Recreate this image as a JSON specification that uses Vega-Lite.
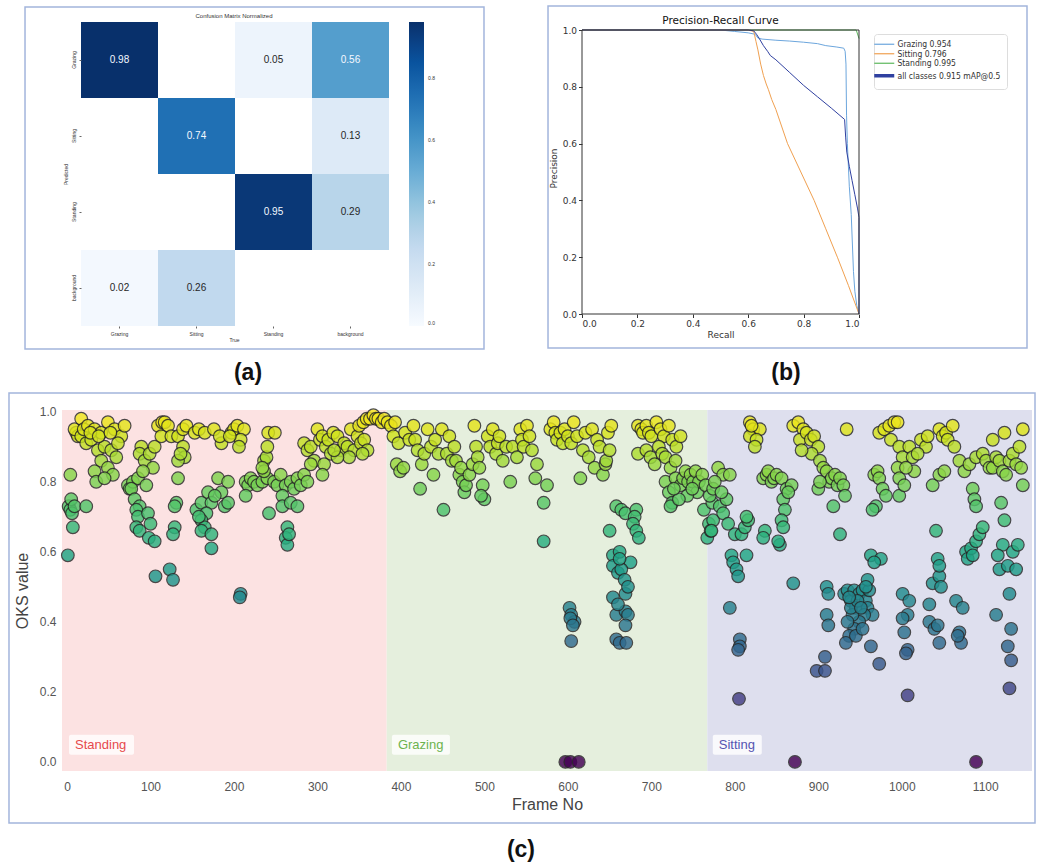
{
  "$schema": "https://vega.github.io/schema/vega-lite/v6.json",
  "padding": {"left": 8, "top": 5, "right": 0, "bottom": 0},
  "background": "white",
  "config": {"view": {"stroke": null}, "font": "Liberation Sans"},
  "spacing": 7,
  "datasets": {
    "cm": [
      {"actual": "Grazing", "predicted": "Grazing", "value": 0.98},
      {"actual": "Standing", "predicted": "Grazing", "value": 0.05},
      {"actual": "background", "predicted": "Grazing", "value": 0.56},
      {"actual": "Sitting", "predicted": "Sitting", "value": 0.74},
      {"actual": "background", "predicted": "Sitting", "value": 0.13},
      {"actual": "Standing", "predicted": "Standing", "value": 0.95},
      {"actual": "background", "predicted": "Standing", "value": 0.29},
      {"actual": "Grazing", "predicted": "background", "value": 0.02},
      {"actual": "Sitting", "predicted": "background", "value": 0.26}
    ],
    "pr": [
      {"series": "Standing 0.995", "i": 0, "recall": 0, "precision": 1},
      {"series": "Standing 0.995", "i": 1, "recall": 0.99, "precision": 1},
      {"series": "Standing 0.995", "i": 2, "recall": 1.0, "precision": 0.97},
      {"series": "Grazing 0.954", "i": 0, "recall": 0, "precision": 1},
      {"series": "Grazing 0.954", "i": 1, "recall": 0.5, "precision": 1},
      {"series": "Grazing 0.954", "i": 2, "recall": 0.55, "precision": 0.995},
      {"series": "Grazing 0.954", "i": 3, "recall": 0.6, "precision": 0.99},
      {"series": "Grazing 0.954", "i": 4, "recall": 0.625, "precision": 0.985},
      {"series": "Grazing 0.954", "i": 5, "recall": 0.635, "precision": 0.972},
      {"series": "Grazing 0.954", "i": 6, "recall": 0.65, "precision": 0.968},
      {"series": "Grazing 0.954", "i": 7, "recall": 0.7, "precision": 0.964},
      {"series": "Grazing 0.954", "i": 8, "recall": 0.75, "precision": 0.961},
      {"series": "Grazing 0.954", "i": 9, "recall": 0.8, "precision": 0.957},
      {"series": "Grazing 0.954", "i": 10, "recall": 0.85, "precision": 0.952},
      {"series": "Grazing 0.954", "i": 11, "recall": 0.88, "precision": 0.945},
      {"series": "Grazing 0.954", "i": 12, "recall": 0.92, "precision": 0.94},
      {"series": "Grazing 0.954", "i": 13, "recall": 0.945, "precision": 0.936},
      {"series": "Grazing 0.954", "i": 14, "recall": 0.95, "precision": 0.925},
      {"series": "Grazing 0.954", "i": 15, "recall": 0.953, "precision": 0.88},
      {"series": "Grazing 0.954", "i": 16, "recall": 0.955, "precision": 0.7},
      {"series": "Grazing 0.954", "i": 17, "recall": 0.958, "precision": 0.6},
      {"series": "Grazing 0.954", "i": 18, "recall": 0.965, "precision": 0.45},
      {"series": "Grazing 0.954", "i": 19, "recall": 0.972, "precision": 0.35},
      {"series": "Grazing 0.954", "i": 20, "recall": 0.976, "precision": 0.25},
      {"series": "Grazing 0.954", "i": 21, "recall": 0.98, "precision": 0.15},
      {"series": "Grazing 0.954", "i": 22, "recall": 0.985, "precision": 0.08},
      {"series": "Grazing 0.954", "i": 23, "recall": 0.992, "precision": 0.03},
      {"series": "Grazing 0.954", "i": 24, "recall": 1.0, "precision": 0.0},
      {"series": "Sitting 0.796", "i": 0, "recall": 0, "precision": 1},
      {"series": "Sitting 0.796", "i": 1, "recall": 0.6, "precision": 1},
      {"series": "Sitting 0.796", "i": 2, "recall": 0.62, "precision": 0.995},
      {"series": "Sitting 0.796", "i": 3, "recall": 0.628, "precision": 0.96},
      {"series": "Sitting 0.796", "i": 4, "recall": 0.635, "precision": 0.93},
      {"series": "Sitting 0.796", "i": 5, "recall": 0.645, "precision": 0.88},
      {"series": "Sitting 0.796", "i": 6, "recall": 0.655, "precision": 0.84},
      {"series": "Sitting 0.796", "i": 7, "recall": 0.665, "precision": 0.81},
      {"series": "Sitting 0.796", "i": 8, "recall": 0.673, "precision": 0.79},
      {"series": "Sitting 0.796", "i": 9, "recall": 0.685, "precision": 0.755},
      {"series": "Sitting 0.796", "i": 10, "recall": 0.7, "precision": 0.72},
      {"series": "Sitting 0.796", "i": 11, "recall": 0.742, "precision": 0.6},
      {"series": "Sitting 0.796", "i": 12, "recall": 0.79, "precision": 0.5},
      {"series": "Sitting 0.796", "i": 13, "recall": 0.838, "precision": 0.4},
      {"series": "Sitting 0.796", "i": 14, "recall": 0.88, "precision": 0.3},
      {"series": "Sitting 0.796", "i": 15, "recall": 0.922, "precision": 0.2},
      {"series": "Sitting 0.796", "i": 16, "recall": 0.962, "precision": 0.1},
      {"series": "Sitting 0.796", "i": 17, "recall": 1.0, "precision": 0.0},
      {"series": "all classes 0.915 mAP@0.5", "i": 0, "recall": 0, "precision": 1},
      {"series": "all classes 0.915 mAP@0.5", "i": 1, "recall": 0.6, "precision": 1},
      {"series": "all classes 0.915 mAP@0.5", "i": 2, "recall": 0.62, "precision": 0.997},
      {"series": "all classes 0.915 mAP@0.5", "i": 3, "recall": 0.63, "precision": 0.985},
      {"series": "all classes 0.915 mAP@0.5", "i": 4, "recall": 0.64, "precision": 0.97},
      {"series": "all classes 0.915 mAP@0.5", "i": 5, "recall": 0.655, "precision": 0.945},
      {"series": "all classes 0.915 mAP@0.5", "i": 6, "recall": 0.67, "precision": 0.925},
      {"series": "all classes 0.915 mAP@0.5", "i": 7, "recall": 0.68, "precision": 0.91},
      {"series": "all classes 0.915 mAP@0.5", "i": 8, "recall": 0.7, "precision": 0.895},
      {"series": "all classes 0.915 mAP@0.5", "i": 9, "recall": 0.75, "precision": 0.85},
      {"series": "all classes 0.915 mAP@0.5", "i": 10, "recall": 0.8, "precision": 0.805},
      {"series": "all classes 0.915 mAP@0.5", "i": 11, "recall": 0.85, "precision": 0.765},
      {"series": "all classes 0.915 mAP@0.5", "i": 12, "recall": 0.9, "precision": 0.725},
      {"series": "all classes 0.915 mAP@0.5", "i": 13, "recall": 0.948, "precision": 0.685},
      {"series": "all classes 0.915 mAP@0.5", "i": 14, "recall": 0.952, "precision": 0.62},
      {"series": "all classes 0.915 mAP@0.5", "i": 15, "recall": 0.956, "precision": 0.57},
      {"series": "all classes 0.915 mAP@0.5", "i": 16, "recall": 0.965, "precision": 0.52},
      {"series": "all classes 0.915 mAP@0.5", "i": 17, "recall": 0.975, "precision": 0.47},
      {"series": "all classes 0.915 mAP@0.5", "i": 18, "recall": 0.985, "precision": 0.42},
      {"series": "all classes 0.915 mAP@0.5", "i": 19, "recall": 0.995, "precision": 0.37},
      {"series": "all classes 0.915 mAP@0.5", "i": 20, "recall": 1.0, "precision": 0.34},
      {"series": "all classes 0.915 mAP@0.5", "i": 21, "recall": 1.0, "precision": 0.0}
    ],
    "spans": [
      {"phase": "Standing", "start": -6, "end": 383},
      {"phase": "Grazing", "start": 383, "end": 767},
      {"phase": "Sitting", "start": 767, "end": 1156}
    ],
    "labels": [
      {"phase": "Standing", "lx": 9.6, "ly": 0.049},
      {"phase": "Grazing", "lx": 396.4, "ly": 0.049},
      {"phase": "Sitting", "lx": 780.8, "ly": 0.049}
    ],
    "pts": [
      {"frame":1,"oks":0.59},{"frame":4,"oks":0.82},{"frame":2,"oks":0.73},{"frame":4,"oks":0.72},{"frame":6,"oks":0.71},{"frame":5,"oks":0.75},{"frame":9,"oks":0.73},{"frame":23,"oks":0.73},{"frame":7,"oks":0.67},
      {"frame":11,"oks":0.94},{"frame":13,"oks":0.93},{"frame":9,"oks":0.95},{"frame":17,"oks":0.98},{"frame":17,"oks":0.93},{"frame":20,"oks":0.95},{"frame":23,"oks":0.91},{"frame":25,"oks":0.96},{"frame":29,"oks":0.92},{"frame":33,"oks":0.95},{"frame":37,"oks":0.89},{"frame":41,"oks":0.94},{"frame":45,"oks":0.9},{"frame":49,"oks":0.97},{"frame":53,"oks":0.89},{"frame":57,"oks":0.95},{"frame":59,"oks":0.87},{"frame":65,"oks":0.93},{"frame":69,"oks":0.96},{"frame":41,"oks":0.86},{"frame":33,"oks":0.83},{"frame":35,"oks":0.8},{"frame":49,"oks":0.84},{"frame":55,"oks":0.82},{"frame":45,"oks":0.81},{"frame":61,"oks":0.91},{"frame":28,"oks":0.94},{"frame":38,"oks":0.93},{"frame":52,"oks":0.94},
      {"frame":73,"oks":0.79},{"frame":75,"oks":0.78},{"frame":79,"oks":0.8},{"frame":85,"oks":0.81},{"frame":77,"oks":0.78},{"frame":81,"oks":0.75},{"frame":87,"oks":0.73},{"frame":83,"oks":0.72},{"frame":85,"oks":0.7},{"frame":83,"oks":0.67},{"frame":87,"oks":0.66},{"frame":97,"oks":0.71},{"frame":100,"oks":0.68},{"frame":98,"oks":0.64},{"frame":105,"oks":0.63},{"frame":89,"oks":0.9},{"frame":87,"oks":0.88},{"frame":93,"oks":0.86},{"frame":99,"oks":0.88},{"frame":103,"oks":0.84},{"frame":105,"oks":0.9},{"frame":95,"oks":0.79},{"frame":91,"oks":0.83},
      {"frame":106,"oks":0.53},{"frame":123,"oks":0.55},{"frame":127,"oks":0.52},
      {"frame":109,"oks":0.96},{"frame":114,"oks":0.97},{"frame":117,"oks":0.97},{"frame":121,"oks":0.96},{"frame":113,"oks":0.93},{"frame":125,"oks":0.93},{"frame":133,"oks":0.93},{"frame":139,"oks":0.95},{"frame":143,"oks":0.96},{"frame":139,"oks":0.9},{"frame":141,"oks":0.87},{"frame":133,"oks":0.86},{"frame":133,"oks":0.81},{"frame":131,"oks":0.74},{"frame":129,"oks":0.73},{"frame":129,"oks":0.67},{"frame":127,"oks":0.65},{"frame":136,"oks":0.88},
      {"frame":153,"oks":0.94},{"frame":158,"oks":0.95},{"frame":165,"oks":0.94},{"frame":176,"oks":0.95},{"frame":185,"oks":0.91},{"frame":183,"oks":0.93},
      {"frame":155,"oks":0.72},{"frame":161,"oks":0.74},{"frame":169,"oks":0.77},{"frame":173,"oks":0.74},{"frame":167,"oks":0.71},{"frame":161,"oks":0.69},{"frame":165,"oks":0.67},{"frame":161,"oks":0.66},{"frame":173,"oks":0.65},{"frame":173,"oks":0.61},{"frame":181,"oks":0.81},{"frame":193,"oks":0.8},{"frame":185,"oks":0.77},{"frame":189,"oks":0.73},{"frame":193,"oks":0.74},{"frame":177,"oks":0.76},{"frame":158,"oks":0.7},
      {"frame":197,"oks":0.94},{"frame":200,"oks":0.95},{"frame":204,"oks":0.96},{"frame":212,"oks":0.95},{"frame":208,"oks":0.92},{"frame":206,"oks":0.9},{"frame":195,"oks":0.93},
      {"frame":208,"oks":0.48},{"frame":207,"oks":0.47},
      {"frame":214,"oks":0.8},{"frame":217,"oks":0.79},{"frame":220,"oks":0.81},{"frame":224,"oks":0.8},{"frame":228,"oks":0.79},{"frame":234,"oks":0.8},{"frame":240,"oks":0.81},{"frame":248,"oks":0.8},{"frame":252,"oks":0.79},{"frame":256,"oks":0.82},{"frame":262,"oks":0.79},{"frame":268,"oks":0.8},{"frame":272,"oks":0.78},{"frame":276,"oks":0.81},{"frame":280,"oks":0.79},{"frame":284,"oks":0.82},{"frame":288,"oks":0.8},{"frame":214,"oks":0.76},{"frame":258,"oks":0.76},{"frame":258,"oks":0.73},{"frame":268,"oks":0.74},{"frame":276,"oks":0.73},{"frame":242,"oks":0.71},{"frame":264,"oks":0.67},{"frame":262,"oks":0.64},{"frame":264,"oks":0.62},{"frame":266,"oks":0.65},
      {"frame":236,"oks":0.86},{"frame":239,"oks":0.87},{"frame":240,"oks":0.9},{"frame":241,"oks":0.94},{"frame":249,"oks":0.94},{"frame":236,"oks":0.83},{"frame":234,"oks":0.84},
      {"frame":284,"oks":0.91},{"frame":288,"oks":0.89},{"frame":292,"oks":0.9},{"frame":300,"oks":0.95},{"frame":303,"oks":0.92},{"frame":306,"oks":0.93},{"frame":310,"oks":0.9},{"frame":313,"oks":0.92},{"frame":316,"oks":0.88},{"frame":319,"oks":0.94},{"frame":324,"oks":0.93},{"frame":328,"oks":0.89},{"frame":332,"oks":0.91},{"frame":336,"oks":0.9},{"frame":340,"oks":0.95},{"frame":344,"oks":0.89},{"frame":348,"oks":0.93},{"frame":352,"oks":0.91},{"frame":356,"oks":0.92},{"frame":360,"oks":0.89},{"frame":354,"oks":0.88},{"frame":338,"oks":0.87},{"frame":324,"oks":0.87},{"frame":296,"oks":0.86},{"frame":308,"oks":0.85},{"frame":306,"oks":0.82},{"frame":292,"oks":0.85},{"frame":320,"oks":0.89},
      {"frame":350,"oks":0.96},{"frame":355,"oks":0.97},{"frame":359,"oks":0.98},{"frame":363,"oks":0.98},{"frame":367,"oks":0.99},{"frame":370,"oks":0.98},{"frame":373,"oks":0.98},{"frame":377,"oks":0.97},{"frame":380,"oks":0.98},{"frame":384,"oks":0.97},
      {"frame":388,"oks":0.96},{"frame":393,"oks":0.97},{"frame":391,"oks":0.93},{"frame":397,"oks":0.91},{"frame":395,"oks":0.85},{"frame":399,"oks":0.83},{"frame":403,"oks":0.84},{"frame":405,"oks":0.94},{"frame":410,"oks":0.92},{"frame":415,"oks":0.96},{"frame":417,"oks":0.92},{"frame":420,"oks":0.89},{"frame":423,"oks":0.78},{"frame":425,"oks":0.85},{"frame":428,"oks":0.88},{"frame":432,"oks":0.95},{"frame":436,"oks":0.9},{"frame":439,"oks":0.82},{"frame":441,"oks":0.92},{"frame":445,"oks":0.88},{"frame":449,"oks":0.95},{"frame":451,"oks":0.72},{"frame":455,"oks":0.88},{"frame":458,"oks":0.93},{"frame":461,"oks":0.86},{"frame":464,"oks":0.9},{"frame":466,"oks":0.86},{"frame":470,"oks":0.82},{"frame":472,"oks":0.84},{"frame":474,"oks":0.8},{"frame":476,"oks":0.77},{"frame":478,"oks":0.79},{"frame":482,"oks":0.82},{"frame":486,"oks":0.85},{"frame":488,"oks":0.96},{"frame":490,"oks":0.9},{"frame":492,"oks":0.87},{"frame":494,"oks":0.84},{"frame":498,"oks":0.79},{"frame":500,"oks":0.75},{"frame":496,"oks":0.76},{"frame":504,"oks":0.93},{"frame":507,"oks":0.9},{"frame":510,"oks":0.95},{"frame":514,"oks":0.88},{"frame":516,"oks":0.91},{"frame":518,"oks":0.93},{"frame":522,"oks":0.86},{"frame":526,"oks":0.9},{"frame":531,"oks":0.8},{"frame":534,"oks":0.9},{"frame":539,"oks":0.87},{"frame":543,"oks":0.95},{"frame":545,"oks":0.92},{"frame":547,"oks":0.9},{"frame":551,"oks":0.96},{"frame":554,"oks":0.93},{"frame":557,"oks":0.89},{"frame":561,"oks":0.81},{"frame":563,"oks":0.85},{"frame":571,"oks":0.63},{"frame":571,"oks":0.74},{"frame":575,"oks":0.79},{"frame":579,"oks":0.95},{"frame":583,"oks":0.97},{"frame":585,"oks":0.94},{"frame":587,"oks":0.92},{"frame":591,"oks":0.94},{"frame":594,"oks":0.91},{"frame":596,"oks":0.95},{"frame":600,"oks":0.93},{"frame":604,"oks":0.91},{"frame":607,"oks":0.97},{"frame":611,"oks":0.93},{"frame":615,"oks":0.81},{"frame":618,"oks":0.89},{"frame":621,"oks":0.94},{"frame":625,"oks":0.87},{"frame":629,"oks":0.95},{"frame":632,"oks":0.84},{"frame":635,"oks":0.92},{"frame":638,"oks":0.9},{"frame":642,"oks":0.82},{"frame":645,"oks":0.85},{"frame":646,"oks":0.86},{"frame":648,"oks":0.94},{"frame":650,"oks":0.89},{"frame":652,"oks":0.96},
      {"frame":602,"oks":0.44},{"frame":604,"oks":0.42},{"frame":608,"oks":0.4},{"frame":603,"oks":0.41},{"frame":606,"oks":0.39},{"frame":604,"oks":0.345},
      {"frame":658,"oks":0.73},{"frame":664,"oks":0.72},{"frame":669,"oks":0.71},{"frame":682,"oks":0.72},{"frame":680,"oks":0.7},{"frame":678,"oks":0.68},{"frame":682,"oks":0.66},{"frame":685,"oks":0.64},{"frame":650,"oks":0.66},{"frame":654,"oks":0.59},{"frame":662,"oks":0.6},{"frame":675,"oks":0.57},{"frame":654,"oks":0.56},{"frame":660,"oks":0.54},{"frame":664,"oks":0.55},{"frame":668,"oks":0.52},{"frame":669,"oks":0.48},{"frame":654,"oks":0.47},{"frame":658,"oks":0.42},{"frame":669,"oks":0.43},{"frame":672,"oks":0.42},{"frame":669,"oks":0.39},{"frame":658,"oks":0.35},{"frame":662,"oks":0.34},{"frame":670,"oks":0.34},{"frame":662,"oks":0.58},{"frame":672,"oks":0.5},{"frame":660,"oks":0.45},
      {"frame":597,"oks":0.0},{"frame":603,"oks":0.0},{"frame":613,"oks":0.0},
      {"frame":684,"oks":0.96},{"frame":688,"oks":0.95},{"frame":690,"oks":0.94},{"frame":694,"oks":0.96},{"frame":697,"oks":0.94},{"frame":700,"oks":0.93},{"frame":706,"oks":0.97},{"frame":711,"oks":0.95},{"frame":715,"oks":0.93},{"frame":721,"oks":0.96},{"frame":725,"oks":0.92},{"frame":730,"oks":0.9},{"frame":735,"oks":0.93},{"frame":684,"oks":0.88},{"frame":694,"oks":0.89},{"frame":699,"oks":0.87},{"frame":704,"oks":0.85},{"frame":709,"oks":0.9},{"frame":713,"oks":0.88},{"frame":717,"oks":0.87},{"frame":723,"oks":0.84},{"frame":729,"oks":0.86},{"frame":717,"oks":0.8},{"frame":721,"oks":0.77},{"frame":725,"oks":0.74},{"frame":723,"oks":0.73},{"frame":729,"oks":0.81},{"frame":735,"oks":0.79},{"frame":738,"oks":0.81},{"frame":741,"oks":0.83},{"frame":744,"oks":0.8},{"frame":747,"oks":0.82},{"frame":750,"oks":0.8},{"frame":753,"oks":0.83},{"frame":755,"oks":0.77},{"frame":757,"oks":0.8},{"frame":761,"oks":0.82},{"frame":743,"oks":0.76},{"frame":749,"oks":0.78},{"frame":765,"oks":0.79},{"frame":733,"oks":0.75},{"frame":727,"oks":0.78},
      {"frame":763,"oks":0.72},{"frame":767,"oks":0.64},{"frame":769,"oks":0.68},{"frame":771,"oks":0.66},{"frame":773,"oks":0.74},{"frame":770,"oks":0.76},{"frame":774,"oks":0.78},{"frame":780,"oks":0.84},{"frame":786,"oks":0.82},{"frame":794,"oks":0.82},{"frame":782,"oks":0.73},{"frame":790,"oks":0.75},{"frame":774,"oks":0.69},{"frame":772,"oks":0.66},{"frame":786,"oks":0.71},{"frame":792,"oks":0.68},{"frame":800,"oks":0.65},{"frame":808,"oks":0.65},{"frame":812,"oks":0.67},{"frame":816,"oks":0.69},{"frame":814,"oks":0.7},{"frame":796,"oks":0.59},{"frame":798,"oks":0.57},{"frame":802,"oks":0.55},{"frame":804,"oks":0.53},{"frame":814,"oks":0.59},{"frame":794,"oks":0.44},{"frame":806,"oks":0.35},{"frame":806,"oks":0.33},{"frame":804,"oks":0.32},{"frame":805,"oks":0.18},{"frame":776,"oks":0.8},{"frame":784,"oks":0.77},
      {"frame":818,"oks":0.97},{"frame":822,"oks":0.95},{"frame":830,"oks":0.95},{"frame":818,"oks":0.93},{"frame":826,"oks":0.92},{"frame":824,"oks":0.9},{"frame":820,"oks":0.96},
      {"frame":834,"oks":0.81},{"frame":838,"oks":0.82},{"frame":840,"oks":0.83},{"frame":844,"oks":0.8},{"frame":847,"oks":0.81},{"frame":850,"oks":0.82},{"frame":856,"oks":0.81},{"frame":862,"oks":0.78},{"frame":858,"oks":0.75},{"frame":860,"oks":0.72},{"frame":856,"oks":0.69},{"frame":858,"oks":0.67},{"frame":854,"oks":0.62},{"frame":852,"oks":0.63},{"frame":836,"oks":0.66},{"frame":834,"oks":0.64},{"frame":870,"oks":0.51},{"frame":868,"oks":0.79},{"frame":864,"oks":0.77},
      {"frame":870,"oks":0.96},{"frame":876,"oks":0.97},{"frame":882,"oks":0.95},{"frame":878,"oks":0.92},{"frame":886,"oks":0.94},{"frame":891,"oks":0.92},{"frame":895,"oks":0.93},{"frame":900,"oks":0.9},{"frame":892,"oks":0.88},{"frame":880,"oks":0.89},{"frame":902,"oks":0.86},{"frame":906,"oks":0.84},{"frame":910,"oks":0.83},{"frame":913,"oks":0.8},{"frame":916,"oks":0.81},{"frame":920,"oks":0.82},{"frame":923,"oks":0.79},{"frame":926,"oks":0.81},{"frame":930,"oks":0.79},{"frame":932,"oks":0.76},{"frame":918,"oks":0.73},{"frame":900,"oks":0.78},{"frame":902,"oks":0.8},{"frame":934,"oks":0.95},{"frame":926,"oks":0.65},
      {"frame":872,"oks":0.0},{"frame":1089,"oks":0.0},
      {"frame":898,"oks":0.26},{"frame":908,"oks":0.26},{"frame":908,"oks":0.3},{"frame":910,"oks":0.5},{"frame":912,"oks":0.48},{"frame":910,"oks":0.42},{"frame":912,"oks":0.39},
      {"frame":931,"oks":0.48},{"frame":935,"oks":0.49},{"frame":939,"oks":0.46},{"frame":943,"oks":0.49},{"frame":945,"oks":0.44},{"frame":949,"oks":0.48},{"frame":953,"oks":0.49},{"frame":957,"oks":0.46},{"frame":961,"oks":0.49},{"frame":959,"oks":0.52},{"frame":959,"oks":0.44},{"frame":965,"oks":0.42},{"frame":955,"oks":0.42},{"frame":949,"oks":0.4},{"frame":943,"oks":0.38},{"frame":937,"oks":0.36},{"frame":933,"oks":0.34},{"frame":941,"oks":0.42},{"frame":935,"oks":0.4},{"frame":945,"oks":0.36},{"frame":953,"oks":0.38},{"frame":939,"oks":0.44},{"frame":963,"oks":0.33},{"frame":973,"oks":0.28},{"frame":963,"oks":0.59},{"frame":975,"oks":0.58},{"frame":967,"oks":0.57},{"frame":947,"oks":0.46},{"frame":951,"oks":0.44},{"frame":937,"oks":0.47},{"frame":957,"oks":0.5},
      {"frame":967,"oks":0.82},{"frame":971,"oks":0.83},{"frame":973,"oks":0.81},{"frame":977,"oks":0.78},{"frame":969,"oks":0.73},{"frame":965,"oks":0.72},{"frame":981,"oks":0.76},{"frame":973,"oks":0.94},{"frame":979,"oks":0.95},{"frame":985,"oks":0.96},{"frame":991,"oks":0.97},{"frame":995,"oks":0.97},{"frame":987,"oks":0.92},{"frame":997,"oks":0.9},{"frame":1001,"oks":0.87},{"frame":995,"oks":0.84},{"frame":997,"oks":0.81},{"frame":997,"oks":0.76},{"frame":1003,"oks":0.79},{"frame":1009,"oks":0.9},{"frame":1013,"oks":0.87},{"frame":1015,"oks":0.83},{"frame":1023,"oks":0.92},{"frame":1029,"oks":0.9},{"frame":1031,"oks":0.93},{"frame":1019,"oks":0.88},{"frame":1005,"oks":0.84},
      {"frame":1001,"oks":0.48},{"frame":1009,"oks":0.46},{"frame":1007,"oks":0.42},{"frame":1001,"oks":0.41},{"frame":1003,"oks":0.37},{"frame":1007,"oks":0.32},{"frame":1005,"oks":0.31},{"frame":1007,"oks":0.19},
      {"frame":1033,"oks":0.45},{"frame":1037,"oks":0.51},{"frame":1045,"oks":0.53},{"frame":1047,"oks":0.5},{"frame":1043,"oks":0.58},{"frame":1045,"oks":0.56},{"frame":1041,"oks":0.66},{"frame":1033,"oks":0.4},{"frame":1039,"oks":0.38},{"frame":1043,"oks":0.39},{"frame":1045,"oks":0.34},{"frame":1037,"oks":0.79},{"frame":1045,"oks":0.82},{"frame":1051,"oks":0.83},
      {"frame":1045,"oks":0.95},{"frame":1049,"oks":0.93},{"frame":1053,"oks":0.94},{"frame":1061,"oks":0.96},{"frame":1055,"oks":0.92},{"frame":1063,"oks":0.9},{"frame":1069,"oks":0.86},{"frame":1075,"oks":0.83},{"frame":1081,"oks":0.85},{"frame":1089,"oks":0.87},{"frame":1097,"oks":0.88},{"frame":1065,"oks":0.46},{"frame":1069,"oks":0.37},{"frame":1071,"oks":0.34},{"frame":1073,"oks":0.44},{"frame":1067,"oks":0.36},
      {"frame":1085,"oks":0.78},{"frame":1087,"oks":0.75},{"frame":1089,"oks":0.73},{"frame":1077,"oks":0.6},{"frame":1079,"oks":0.58},{"frame":1083,"oks":0.61},{"frame":1089,"oks":0.63},{"frame":1093,"oks":0.65},{"frame":1097,"oks":0.67},{"frame":1085,"oks":0.59},
      {"frame":1109,"oks":0.92},{"frame":1123,"oks":0.94},{"frame":1145,"oks":0.95},{"frame":1101,"oks":0.86},{"frame":1105,"oks":0.84},{"frame":1109,"oks":0.84},{"frame":1113,"oks":0.87},{"frame":1117,"oks":0.86},{"frame":1121,"oks":0.83},{"frame":1125,"oks":0.82},{"frame":1129,"oks":0.86},{"frame":1133,"oks":0.88},{"frame":1137,"oks":0.85},{"frame":1141,"oks":0.9},{"frame":1143,"oks":0.84},{"frame":1145,"oks":0.79},{"frame":1119,"oks":0.74},{"frame":1123,"oks":0.69},{"frame":1121,"oks":0.62},{"frame":1115,"oks":0.59},{"frame":1117,"oks":0.55},{"frame":1127,"oks":0.56},{"frame":1133,"oks":0.6},{"frame":1139,"oks":0.62},{"frame":1137,"oks":0.55},{"frame":1129,"oks":0.48},{"frame":1113,"oks":0.42},{"frame":1131,"oks":0.38},{"frame":1127,"oks":0.33},{"frame":1131,"oks":0.29},{"frame":1129,"oks":0.21}
    ]
  },
  "vconcat": [
    {
      "spacing": 62,
      "hconcat": [
        {
          "width": 327,
          "height": 304,
          "layer": [
            {
              "data": {"name": "cm"},
              "layer": [
                {
                  "mark": {"type": "rect"},
                  "encoding": {
                    "x": {"field": "actual", "type": "nominal", "title": "True",
                      "scale": {"domain": ["Grazing", "Sitting", "Standing", "background"], "paddingInner": 0, "paddingOuter": 0.1234, "align": 1},
                      "axis": {"labelAngle": 0, "labelFontSize": 5, "labelColor": "#333", "tickSize": 2, "tickColor": "#666", "domain": false, "titleFontSize": 5, "titleFontWeight": "normal", "titleColor": "#333", "titlePadding": 1, "labelPadding": 3, "titleX": 172}},
                    "y": {"field": "predicted", "type": "nominal", "title": "Predicted",
                      "scale": {"domain": ["Grazing", "Sitting", "Standing", "background"], "paddingInner": 0, "paddingOuter": 0},
                      "axis": {"offset": -19, "labelAngle": -90, "labelFontSize": 5, "labelColor": "#333", "tickSize": 2, "tickColor": "#666", "domain": false, "titleFontSize": 5, "titleFontWeight": "normal", "titleColor": "#333", "titlePadding": 3, "labelPadding": 3}},
                    "color": {"field": "value", "type": "quantitative",
                      "scale": {"domain": [0, 0.98], "range": ["#f7fbff", "#deebf7", "#c6dbef", "#9ecae1", "#6baed6", "#4292c6", "#2171b5", "#08519c", "#08306b"]},
                      "legend": {"orient": "none", "legendX": 347, "legendY": 0, "title": null, "direction": "vertical", "gradientLength": 304, "gradientThickness": 15, "gradientStrokeWidth": 0, "values": [0, 0.2, 0.4, 0.6, 0.8], "format": ".1f", "labelFontSize": 5, "labelColor": "#333", "labelOffset": 4}}
                  }
                },
                {
                  "mark": {"type": "text", "fontSize": 10, "font": "Liberation Sans"},
                  "encoding": {
                    "x": {"field": "actual", "type": "nominal", "title": "True"},
                    "y": {"field": "predicted", "type": "nominal", "title": "Predicted"},
                    "text": {"field": "value", "type": "quantitative", "format": ".2f"},
                    "color": {"condition": {"test": "datum.value > 0.45", "value": "#f4f8ff"}, "value": "#262626"}
                  }
                }
              ]
            },
            {
              "data": {"values": [{}]},
              "layer": [
                {
                  "mark": {"type": "rect", "fillOpacity": 0, "stroke": "#a3b5dc", "strokeWidth": 1.5, "clip": false},
                  "encoding": {
                    "x": {"datum": -0.1131, "type": "quantitative", "scale": {"domain": [0, 1], "nice": false, "zero": false}, "axis": null},
                    "x2": {"datum": 1.2905},
                    "y": {"datum": -0.0757, "type": "quantitative", "scale": {"domain": [0, 1], "nice": false, "zero": false}, "axis": null},
                    "y2": {"datum": 1.0493}
                  }
                },
                {
                  "mark": {"type": "text", "text": "(a)", "fontSize": 23, "fontWeight": "bold", "font": "Liberation Sans", "color": "#111", "baseline": "middle", "clip": false},
                  "encoding": {
                    "x": {"datum": 0.5688, "type": "quantitative", "axis": null},
                    "y": {"datum": -0.1546, "type": "quantitative", "axis": null}
                  }
                },
                {
                  "mark": {"type": "text", "text": "Confusion Matrix Normalized", "fontSize": 6, "font": "Liberation Sans", "color": "#333", "baseline": "middle", "clip": false},
                  "encoding": {
                    "x": {"datum": 0.526, "type": "quantitative", "axis": null},
                    "y": {"datum": 1.0197, "type": "quantitative", "axis": null}
                  }
                }
              ]
            }
          ],
          "resolve": {"scale": {"x": "independent", "y": "independent"}}
        },
        {
          "width": 277,
          "height": 292,
          "layer": [
            {
              "data": {"name": "pr"},
              "mark": {"type": "line"},
              "encoding": {
                "x": {"field": "recall", "type": "quantitative", "title": "Recall",
                  "scale": {"domain": [0, 1], "nice": false, "zero": false},
                  "axis": {"values": [0, 0.2, 0.4, 0.6, 0.8, 1.0], "format": ".1f", "labelFontSize": 9, "labelFont": "DejaVu Sans", "labelColor": "#333", "tickSize": 3.5, "tickColor": "#333", "domain": false, "grid": false, "titleFontSize": 9, "titleFont": "DejaVu Sans", "titleFontWeight": "normal", "titleColor": "#333", "titlePadding": 2, "labelPadding": 2}},
                "y": {"field": "precision", "type": "quantitative", "title": "Precision",
                  "scale": {"domain": [0, 1.02817], "nice": false, "zero": false},
                  "axis": {"values": [0, 0.2, 0.4, 0.6, 0.8, 1.0], "format": ".1f", "labelFontSize": 9, "labelFont": "DejaVu Sans", "labelColor": "#333", "tickSize": 3.5, "tickColor": "#333", "domain": false, "grid": false, "titleFontSize": 9, "titleFont": "DejaVu Sans", "titleFontWeight": "normal", "titleColor": "#333", "titlePadding": 4, "labelPadding": 2}},
                "order": {"field": "i", "type": "quantitative"},
                "color": {"field": "series", "type": "nominal",
                  "scale": {"domain": ["Grazing 0.954", "Sitting 0.796", "Standing 0.995", "all classes 0.915 mAP@0.5"], "range": ["#6ca6dd", "#f0a050", "#5cb85c", "#2f40a0"]},
                  "legend": {"orient": "none", "legendX": 292, "legendY": 12, "title": null, "labelFontSize": 8.5, "labelFont": "DejaVu Sans Condensed, DejaVu Sans", "labelColor": "#333", "symbolType": "M-2,0H2", "symbolSize": 100, "labelOffset": 9, "padding": 6, "rowPadding": 0.5, "strokeColor": "#ddd", "fillColor": "white", "cornerRadius": 3,
                    "encode": {"symbols": {"update": {"strokeWidth": {"signal": "datum.value === 'all classes 0.915 mAP@0.5' ? 3.5 : 1.2"}}}}}},
                "strokeWidth": {"field": "series", "type": "nominal",
                  "scale": {"domain": ["Grazing 0.954", "Sitting 0.796", "Standing 0.995", "all classes 0.915 mAP@0.5"], "range": [1, 1, 1, 3.5]},
                  "legend": null}
              }
            },
            {
              "data": {"values": [{}]},
              "mark": {"type": "rect", "fillOpacity": 0, "stroke": "#333", "strokeWidth": 1, "clip": false},
              "encoding": {
                "x": {"datum": 0, "type": "quantitative", "title": "Recall"},
                "x2": {"datum": 1},
                "y": {"datum": 0, "type": "quantitative", "title": "Precision"},
                "y2": {"datum": 1}
              }
            },
            {
              "data": {"values": [{}]},
              "mark": {"type": "rect", "fillOpacity": 0, "stroke": "#a3b5dc", "strokeWidth": 1.5, "clip": false},
              "encoding": {
                "x": {"datum": -0.1227, "type": "quantitative", "title": "Recall"},
                "x2": {"datum": 1.6065},
                "y": {"datum": -0.1197, "type": "quantitative", "title": "Precision"},
                "y2": {"datum": 1.0845}
              }
            },
            {
              "data": {"values": [{}]},
              "mark": {"type": "text", "text": "(b)", "fontSize": 23, "fontWeight": "bold", "font": "Liberation Sans", "color": "#111", "baseline": "middle", "clip": false},
              "encoding": {
                "x": {"datum": 0.7365, "type": "quantitative", "title": "Recall"},
                "y": {"datum": -0.2077, "type": "quantitative", "title": "Precision"}
              }
            },
            {
              "data": {"values": [{}]},
              "mark": {"type": "text", "text": "Precision-Recall Curve", "fontSize": 10.5, "font": "DejaVu Sans", "color": "#111", "baseline": "middle", "clip": false},
              "encoding": {
                "x": {"datum": 0.5, "type": "quantitative", "title": "Recall"},
                "y": {"datum": 1.0317, "type": "quantitative", "title": "Precision"}
              }
            }
          ]
        }
      ]
    },
    {
      "width": 970,
      "height": 361,
      "layer": [
        {
          "data": {"name": "spans"},
          "mark": {"type": "rect"},
          "encoding": {
            "x": {"field": "start", "type": "quantitative", "title": "Frame No"},
            "x2": {"field": "end"},
            "y": {"datum": -0.026, "type": "quantitative", "title": "OKS value"},
            "y2": {"datum": 1.005},
            "fill": {"field": "phase", "type": "nominal", "scale": {"domain": ["Standing", "Grazing", "Sitting"], "range": ["#fce2e2", "#e5efdd", "#dedfee"]}, "legend": null}
          }
        },
        {
          "data": {"name": "pts"},
          "mark": {"type": "circle", "size": 160, "stroke": "#262626", "strokeWidth": 1.2, "opacity": 0.82},
          "encoding": {
            "x": {"field": "frame", "type": "quantitative", "title": "Frame No",
              "scale": {"domain": [-6, 1156], "nice": false, "zero": false},
              "axis": {"values": [0, 100, 200, 300, 400, 500, 600, 700, 800, 900, 1000, 1100], "format": "d", "labelFontSize": 12, "labelColor": "#555", "ticks": false, "domain": false, "grid": false, "labelPadding": 10, "titleFontSize": 16, "titleColor": "#444", "titleFontWeight": "normal", "titlePadding": 4}},
            "y": {"field": "oks", "type": "quantitative", "title": "OKS value",
              "scale": {"domain": [-0.026, 1.005], "nice": false, "zero": false},
              "axis": {"values": [0, 0.1, 0.2, 0.3, 0.4, 0.5, 0.6, 0.7, 0.8, 0.9, 1.0], "format": ".1f", "labelFontSize": 12, "labelColor": "#555", "ticks": false, "domain": false, "grid": false, "labelPadding": 6, "titleFontSize": 16, "titleColor": "#444", "titleFontWeight": "normal", "titlePadding": 9}},
            "color": {"field": "oks", "type": "quantitative", "scale": {"scheme": "viridis", "domain": [0, 1]}, "legend": null}
          }
        },
        {
          "data": {"name": "labels"},
          "transform": [{"filter": "datum.phase === 'Standing'"}],
          "mark": {"type": "rect", "fill": "white", "opacity": 0.8, "cornerRadius": 2, "xOffset": -6, "x2Offset": 59, "yOffset": -10, "y2Offset": 10},
          "encoding": {
            "x": {"field": "lx", "type": "quantitative", "title": "Frame No"},
            "x2": {"field": "lx"},
            "y": {"field": "ly", "type": "quantitative", "title": "OKS value"},
            "y2": {"field": "ly"}
          }
        },
        {
          "data": {"name": "labels"},
          "transform": [{"filter": "datum.phase === 'Grazing'"}],
          "mark": {"type": "rect", "fill": "white", "opacity": 0.8, "cornerRadius": 2, "xOffset": -6, "x2Offset": 52, "yOffset": -10, "y2Offset": 10},
          "encoding": {
            "x": {"field": "lx", "type": "quantitative", "title": "Frame No"},
            "x2": {"field": "lx"},
            "y": {"field": "ly", "type": "quantitative", "title": "OKS value"},
            "y2": {"field": "ly"}
          }
        },
        {
          "data": {"name": "labels"},
          "transform": [{"filter": "datum.phase === 'Sitting'"}],
          "mark": {"type": "rect", "fill": "white", "opacity": 0.8, "cornerRadius": 2, "xOffset": -6, "x2Offset": 43, "yOffset": -10, "y2Offset": 10},
          "encoding": {
            "x": {"field": "lx", "type": "quantitative", "title": "Frame No"},
            "x2": {"field": "lx"},
            "y": {"field": "ly", "type": "quantitative", "title": "OKS value"},
            "y2": {"field": "ly"}
          }
        },
        {
          "data": {"name": "labels"},
          "mark": {"type": "text", "align": "left", "baseline": "middle", "fontSize": 13, "font": "Liberation Sans"},
          "encoding": {
            "x": {"field": "lx", "type": "quantitative", "title": "Frame No"},
            "y": {"field": "ly", "type": "quantitative", "title": "OKS value"},
            "text": {"field": "phase"},
            "fill": {"field": "phase", "type": "nominal", "scale": {"domain": ["Standing", "Grazing", "Sitting"], "range": ["#e64a4c", "#6cb34e", "#5454b2"]}, "legend": null}
          }
        },
        {
          "data": {"values": [{}]},
          "mark": {"type": "rect", "fillOpacity": 0, "stroke": "#a3b5dc", "strokeWidth": 1.5, "clip": false},
          "encoding": {
            "x": {"datum": -69.5, "type": "quantitative", "title": "Frame No"},
            "x2": {"datum": 1159.6},
            "y": {"datum": -0.1745, "type": "quantitative", "title": "OKS value"},
            "y2": {"datum": 1.0536}
          }
        },
        {
          "data": {"values": [{}]},
          "mark": {"type": "text", "text": "(c)", "fontSize": 23, "fontWeight": "bold", "font": "Liberation Sans", "color": "#111", "baseline": "middle", "clip": false},
          "encoding": {
            "x": {"datum": 543.8, "type": "quantitative", "title": "Frame No"},
            "y": {"datum": -0.2517, "type": "quantitative", "title": "OKS value"}
          }
        }
      ],
      "resolve": {"scale": {"fill": "independent"}}
    }
  ]
}
